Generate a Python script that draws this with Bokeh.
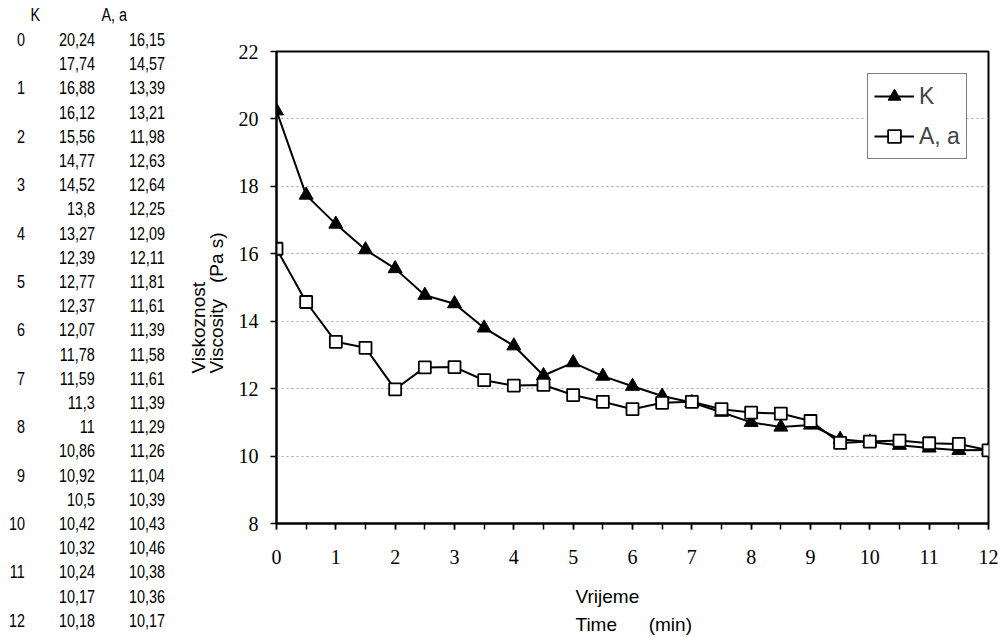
from bokeh.plotting import figure
from bokeh.layouts import row
from bokeh.models import Range1d, FixedTicker, Legend, LegendItem, ColumnDataSource, Title, Div
from bokeh.embed import file_html
from bokeh.resources import INLINE

# ---- data ----
times = [0, 0.5, 1, 1.5, 2, 2.5, 3, 3.5, 4, 4.5, 5, 5.5, 6, 6.5, 7, 7.5, 8, 8.5, 9, 9.5, 10, 10.5, 11, 11.5, 12]
K = [20.24, 17.74, 16.88, 16.12, 15.56, 14.77, 14.52, 13.8, 13.27, 12.39, 12.77, 12.37, 12.07,
     11.78, 11.59, 11.3, 11, 10.86, 10.92, 10.5, 10.42, 10.32, 10.24, 10.17, 10.18]
Aa = [16.15, 14.57, 13.39, 13.21, 11.98, 12.63, 12.64, 12.25, 12.09, 12.11, 11.81, 11.61, 11.39,
      11.58, 11.61, 11.39, 11.29, 11.26, 11.04, 10.39, 10.43, 10.46, 10.38, 10.36, 10.17]
x_ticks = list(range(0, 13))
y_ticks = list(range(8, 23, 2))
table_headers = ["K", "A, a"]

def fmt(v):
    s = ("%.2f" % v).rstrip("0").rstrip(".")
    return s.replace(".", ",")

# ---- table (left) ----
DIVW = 176
TOTW, TOTH = 998, 638

def cell(txt, right, yc):
    return ('<div style="position:absolute;right:%dpx;top:%dpx;height:22px;line-height:22px;'
            'white-space:nowrap;transform:scaleX(0.8);transform-origin:100%% 50%%;">%s</div>'
            % (DIVW - right, int(round(yc - 11)), txt))

parts = []
parts.append(cell(table_headers[0], 40, 15))
parts.append(cell(table_headers[1], 127, 15))
for i, (tv, kv, av) in enumerate(zip(times, K, Aa)):
    yc = 40 + i * 24.2
    if float(tv).is_integer():
        parts.append(cell(str(int(tv)), 25, yc))
    parts.append(cell(fmt(kv), 95, yc))
    parts.append(cell(fmt(av), 165, yc))
html = ('<div style="position:relative;width:%dpx;height:%dpx;font-family:\'Liberation Sans\',Arial,sans-serif;'
        'font-size:18px;color:black;">%s</div>' % (DIVW, TOTH, "".join(parts)))
table = Div(text=html, width=DIVW, height=TOTH, margin=0)

# ---- chart ----
FL, FR, FT, FB = 276, 988, 51, 523
W = TOTW - DIVW
p = figure(width=W, height=TOTH, x_range=Range1d(0, 12), y_range=Range1d(8, 22),
           output_backend="svg", toolbar_location=None,
           min_border_left=FL - DIVW, min_border_right=TOTW - FR,
           min_border_top=FT, min_border_bottom=TOTH - FB)
p.background_fill_color = "white"
p.outline_line_color = "black"
p.outline_line_width = 2

p.xgrid.visible = False
p.ygrid.ticker = FixedTicker(ticks=y_ticks)
p.ygrid.grid_line_color = "#a8a8a8"
p.ygrid.grid_line_dash = "2 3"
p.ygrid.grid_line_width = 1

p.xaxis.ticker = FixedTicker(ticks=x_ticks, minor_ticks=[v / 2 for v in range(0, 25)])
p.yaxis.ticker = FixedTicker(ticks=y_ticks, minor_ticks=[])
for ax in (p.xaxis, p.yaxis):
    ax.axis_line_color = "black"
    ax.axis_line_width = 2
    ax.major_tick_line_color = "black"
    ax.major_tick_line_width = 1.5
    ax.major_tick_out = 6
    ax.major_tick_in = 0
    ax.minor_tick_line_color = "black"
    ax.minor_tick_line_width = 1.5
    ax.minor_tick_out = 6
    ax.minor_tick_in = 0
    ax.major_label_text_font = "Liberation Serif"
    ax.major_label_text_font_size = "20px"
    ax.major_label_text_color = "black"
p.xaxis.major_label_standoff = 20
p.yaxis.major_label_standoff = 12

src = ColumnDataSource(dict(t=times, k=K, a=Aa))
lk = p.line("t", "k", source=src, line_color="black", line_width=2)
sk = p.scatter("t", "k", source=src, marker="triangle", size=14, fill_color="black", line_color="black")
la = p.line("t", "a", source=src, line_color="black", line_width=2)
sa = p.scatter("t", "a", source=src, marker="square", size=12, fill_color="white", line_color="black",
               line_width=1.8)

legend = Legend(items=[LegendItem(label="K", renderers=[lk, sk]),
                       LegendItem(label="A, a", renderers=[la, sa])],
                location=(591, 364), label_text_font="Liberation Sans", label_text_font_size="23px",
                glyph_width=40, glyph_height=32, label_standoff=5, spacing=8, padding=6,
                border_line_color="black", border_line_width=1.5, background_fill_alpha=1,
                label_height=32)
p.add_layout(legend, "center")

# ---- axis titles ----
NB = "\u00a0"
def ttl(txt, offset, standoff, lh, size="19px"):
    return Title(text=txt, align="left", offset=offset, standoff=standoff,
                 text_font="Liberation Sans", text_font_size=size, text_font_style="normal",
                 text_color="black", text_line_height=lh)

p.add_layout(ttl(NB, 0, 4, 1.0, "10px"), "below")
p.add_layout(ttl("Vrijeme\nTime" + NB * 6 + "(min)", 575 - FL, 0, 1.37), "below")
p.add_layout(ttl("Viskoznost\nViscosity" + NB * 3 + "(Pa s)", FB - 373, 16, 0.86), "left")

open("out.html", "w").write(file_html(row(table, p), INLINE))
